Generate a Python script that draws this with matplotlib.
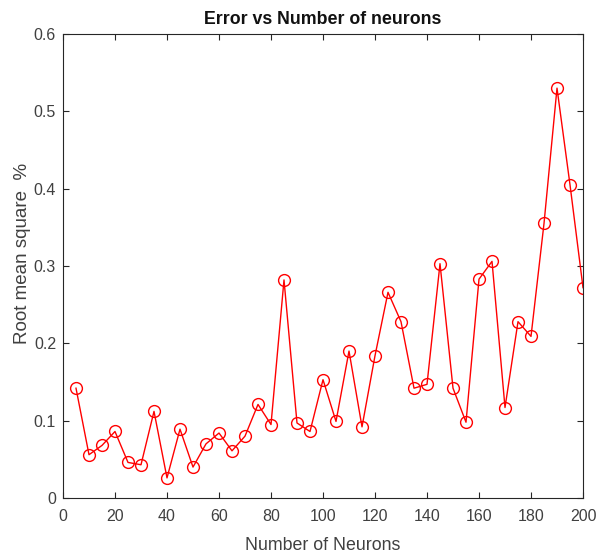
import matplotlib
matplotlib.use('Agg')
import matplotlib.pyplot as plt

# Number of neurons vs RMS error
neurons = list(range(5, 205, 5))
rms = [0.142, 0.056, 0.068, 0.086, 0.046, 0.043, 0.112, 0.026, 0.089, 0.040,
       0.070, 0.084, 0.061, 0.080, 0.121, 0.095, 0.282, 0.097, 0.086, 0.153,
       0.099, 0.190, 0.092, 0.184, 0.266, 0.228, 0.142, 0.147, 0.303, 0.142,
       0.098, 0.283, 0.306, 0.117, 0.228, 0.209, 0.355, 0.530, 0.405, 0.272]
xticks = list(range(0, 201, 20))
yticks = [0, 0.1, 0.2, 0.3, 0.4, 0.5, 0.6]
ytick_labels = ['0', '0.1', '0.2', '0.3', '0.4', '0.5', '0.6']

plt.rcParams['font.family'] = ['Liberation Sans', 'DejaVu Sans']

fig = plt.figure(figsize=(5.96, 5.6), dpi=100)
ax = fig.add_axes([0.1057, 0.1107, 0.8725, 0.8286])

ax.plot(neurons, rms, color='red', linewidth=1, marker='o', markersize=8.5,
        markerfacecolor='none', markeredgecolor='red', markeredgewidth=1)

ax.set_xlim(0, 200)
ax.set_ylim(0, 0.6)
ax.set_xticks(xticks)
ax.set_yticks(yticks)
ax.set_yticklabels(ytick_labels)
ax.tick_params(direction='in', top=True, right=True, length=4.5, width=0.8,
               colors='#262626', labelsize=11.5, labelcolor='#404040')
ax.tick_params(axis='x', pad=8)
ax.tick_params(axis='y', pad=5)
for s in ax.spines.values():
    s.set_color('#262626')
    s.set_linewidth(0.8)

ax.set_title('Error vs Number of neurons', fontsize=12.8, fontweight='bold',
             pad=7, color='#111111')
ax.set_xlabel('Number of Neurons', fontsize=12.8, color='#404040', labelpad=9)
ax.set_ylabel('Root mean square  %', fontsize=13.5, color='#404040')
ax.yaxis.set_label_coords(-0.062, 0.527)

fig.savefig('out.png', dpi=100)
